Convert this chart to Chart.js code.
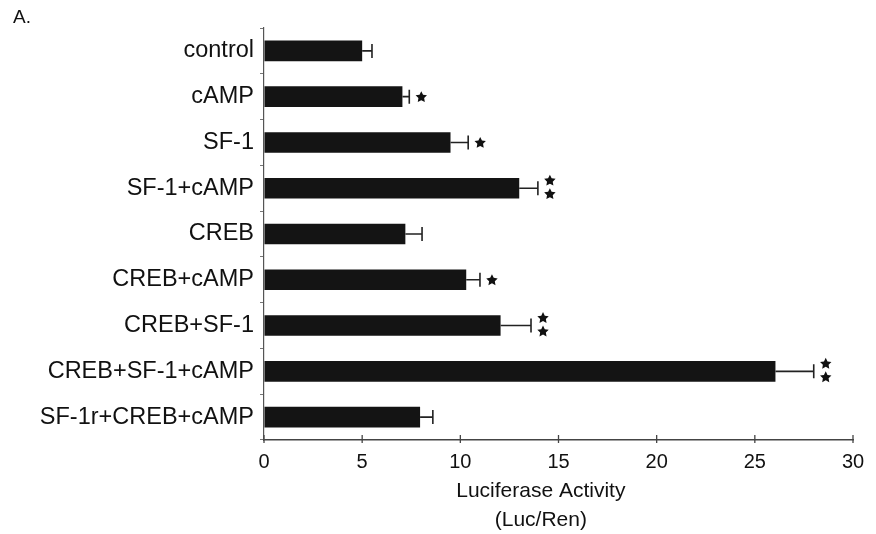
<!DOCTYPE html>
<html>
<head>
<meta charset="utf-8">
<script src="https://cdn.jsdelivr.net/npm/chart.js@4.4.1/dist/chart.umd.min.js"></script>
<style>
  html, body { margin: 0; padding: 0; background: #ffffff; }
  #wrap { position: relative; width: 876px; height: 534px; }
  canvas { display: block; }
</style>
</head>
<body>
<div id="wrap"><canvas id="c" width="876" height="534"></canvas></div>
<script>
// ---- Data ----
const categories = ["control", "cAMP", "SF-1", "SF-1+cAMP", "CREB", "CREB+cAMP", "CREB+SF-1", "CREB+SF-1+cAMP", "SF-1r+CREB+cAMP"];
const activity = [5.0, 7.05, 9.5, 13.0, 7.2, 10.3, 12.05, 26.05, 7.95];
const errorPlus = [0.5, 0.35, 0.9, 0.95, 0.85, 0.7, 1.55, 1.95, 0.65];
const significance = [0, 1, 1, 2, 0, 1, 2, 2, 0];
const xTicks = [0, 5, 10, 15, 20, 25, 30];
const panelLabel = "A.";
const xTitle = ["Luciferase Activity", "(Luc/Ren)"];

const FONT = "'Liberation Sans', Arial, Helvetica, sans-serif";

function drawStar(ctx, cx, cy, r) {
  ctx.beginPath();
  for (let i = 0; i < 10; i++) {
    const rad = (i % 2 === 0) ? r : r * 0.5;
    const a = -Math.PI / 2 + i * Math.PI / 5;
    const px = cx + rad * Math.cos(a);
    const py = cy + rad * Math.sin(a);
    if (i === 0) ctx.moveTo(px, py); else ctx.lineTo(px, py);
  }
  ctx.closePath();
  ctx.fill();
}

const extras = {
  id: 'extras',
  afterDatasetsDraw(chart) {
    const ctx = chart.ctx;
    const xs = chart.scales.x;
    const meta = chart.getDatasetMeta(0);
    ctx.save();
    // error bars + significance stars
    meta.data.forEach((bar, i) => {
      const y = bar.y;
      const x0 = xs.getPixelForValue(activity[i]);
      const x1 = xs.getPixelForValue(activity[i] + errorPlus[i]);
      ctx.strokeStyle = '#222';
      ctx.lineWidth = 1.6;
      ctx.beginPath();
      ctx.moveTo(x0, y);
      ctx.lineTo(x1, y);
      ctx.moveTo(x1, y - 7);
      ctx.lineTo(x1, y + 7);
      ctx.stroke();
      ctx.fillStyle = '#111';
      const sx = x1 + 12;
      if (significance[i] === 1) {
        drawStar(ctx, sx, y + 0.5, 6);
      } else if (significance[i] === 2) {
        drawStar(ctx, sx, y - 7.5, 6);
        drawStar(ctx, sx, y + 6, 6);
      }
    });
    // tick marks on x axis (mostly inward)
    const yb = chart.chartArea.bottom;
    ctx.strokeStyle = '#444';
    ctx.lineWidth = 1.3;
    xTicks.forEach(v => {
      const px = xs.getPixelForValue(v);
      ctx.beginPath();
      ctx.moveTo(px, yb + 3);
      ctx.lineTo(px, yb - 5);
      ctx.stroke();
    });
    // x-axis title (set slightly left of the axis centre, as in the original)
    ctx.fillStyle = '#111';
    ctx.font = "21px " + FONT;
    ctx.textAlign = 'center';
    ctx.textBaseline = 'alphabetic';
    const tx = xs.getPixelForValue(14.1);
    ctx.fillText(xTitle[0], tx, 497);
    ctx.fillText(xTitle[1], tx, 526);
    // panel label
    ctx.font = "19px " + FONT;
    ctx.textAlign = 'left';
    ctx.fillText(panelLabel, 13, 23);
    ctx.restore();
  }
};

new Chart(document.getElementById('c'), {
  type: 'bar',
  data: {
    labels: categories,
    datasets: [{
      data: activity,
      backgroundColor: '#141414',
      borderWidth: 0,
      categoryPercentage: 1.0,
      barPercentage: 0.45
    }]
  },
  options: {
    indexAxis: 'y',
    responsive: false,
    animation: false,
    devicePixelRatio: 1,
    layout: { padding: { top: 28, left: 0, right: 23, bottom: 2 } },
    plugins: { legend: { display: false }, tooltip: { enabled: false }, title: { display: false } },
    scales: {
      x: {
        type: 'linear',
        min: 0, max: 30,
        afterBuildTicks: (scale) => { scale.ticks = xTicks.map(v => ({ value: v })); },
        afterFit: (scale) => { scale.height = 92; },
        grid: { display: true, drawOnChartArea: false, drawTicks: false },
        border: { display: true, color: '#444', width: 1.5 },
        ticks: { color: '#111', font: { family: FONT, size: 20 }, padding: 10, maxRotation: 0 },
        title: { display: false }
      },
      y: {
        type: 'category',
        afterFit: (scale) => { scale.width = 264; },
        grid: { display: true, drawOnChartArea: false, drawTicks: true, tickLength: 4, color: '#777', offset: true },
        border: { display: true, color: '#555', width: 1.2 },
        ticks: { color: '#111', font: { family: FONT, size: 23.5 }, padding: 6 }
      }
    }
  },
  plugins: [extras]
});
</script>
</body>
</html>
